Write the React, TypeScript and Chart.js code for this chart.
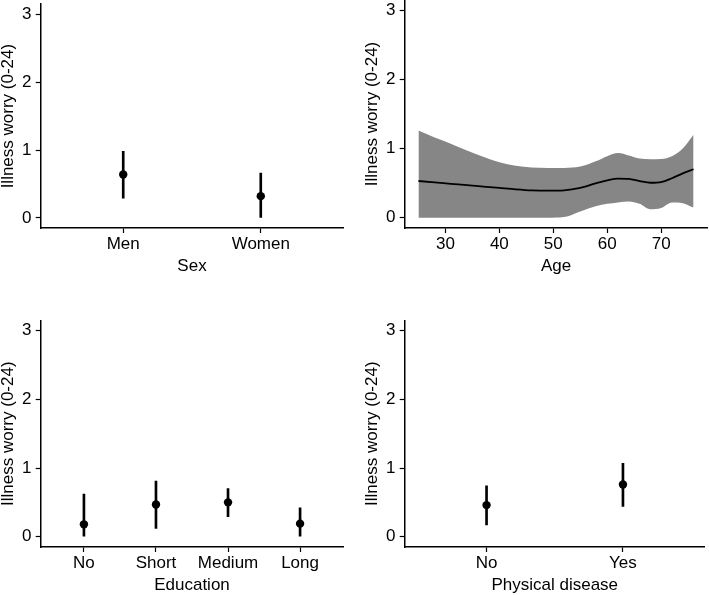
import React, { useEffect, useRef } from 'react';
import { Chart, registerables } from 'chart.js';

Chart.register(...registerables);

// ---------- data ----------
const Y_TICKS = [0, 1, 2, 3];
const Y_MIN = -0.15;
const Y_MAX = 3.15;
const Y_TITLE = 'Illness worry (0-24)';

const sexCategories = ['Men', 'Women'];
const sexMean = [0.64, 0.32];
const sexLow = [0.29, 0.0];
const sexHigh = [0.98, 0.66];

const eduCategories = ['No', 'Short', 'Medium', 'Long'];
const eduMean = [0.18, 0.47, 0.5, 0.19];
const eduLow = [0.0, 0.12, 0.29, 0.0];
const eduHigh = [0.62, 0.81, 0.7, 0.42];

const diseaseCategories = ['No', 'Yes'];
const diseaseMean = [0.46, 0.76];
const diseaseLow = [0.17, 0.44];
const diseaseHigh = [0.74, 1.07];

const ages = [25, 28, 31, 34, 37, 40, 43, 46, 49, 52, 55, 58, 60, 62, 64, 66, 68, 70, 72, 74, 76];
const ageFit = [0.53, 0.51, 0.49, 0.47, 0.45, 0.43, 0.41, 0.395, 0.39, 0.395, 0.43, 0.5, 0.54, 0.565, 0.56, 0.53, 0.505, 0.515, 0.57, 0.64, 0.7];
const ageUpper = [1.26, 1.16, 1.07, 0.97, 0.88, 0.8, 0.75, 0.725, 0.72, 0.72, 0.74, 0.82, 0.89, 0.935, 0.9, 0.855, 0.845, 0.85, 0.89, 1.0, 1.2];
const ageLower = [0, 0, 0, 0, 0, 0, 0, 0, 0, 0.01, 0.09, 0.17, 0.2, 0.22, 0.235, 0.2, 0.12, 0.14, 0.22, 0.21, 0.145];
const ageTicks = [30, 40, 50, 60, 70];
const AGE_MIN = 22.45;
const AGE_MAX = 78.55;

// ---------- style ----------
const FONT = "'Liberation Sans', Arial, sans-serif";
const FONT_SIZE = 17;
const BAND = '#868686';

type Panel = {
  left: number;
  top: number;
  width: number;
  height: number;
  padLeft: number;
  chartLeft: number;
  chartRight: number;
  chartTop: number;
  chartBottom: number;
};

const P_TL: Panel = { left: 0, top: 0, width: 354, height: 300, padLeft: 0, chartLeft: 40.7, chartRight: 343.3, chartTop: 0, chartBottom: 228 };
const P_TR: Panel = { left: 354, top: 0, width: 355, height: 300, padLeft: 10, chartLeft: 50.7, chartRight: 353.3, chartTop: 0, chartBottom: 228 };
const P_BL: Panel = { left: 0, top: 300, width: 354, height: 295, padLeft: 0, chartLeft: 40.7, chartRight: 343.3, chartTop: 20.4, chartBottom: 247 };
const P_BR: Panel = { left: 354, top: 300, width: 355, height: 295, padLeft: 10, chartLeft: 50.7, chartRight: 353.3, chartTop: 20.4, chartBottom: 247 };

function baseOptions(p: Panel, xMin: number, xMax: number, xTickValues: number[], xLabel: (v: number) => string, xTitle: string): any {
  const yWidth = p.chartLeft - p.padLeft;
  const xHeight = p.height - p.chartBottom;
  const titleOffset = p.height - (p.chartBottom + 38.6) - FONT_SIZE / 2;
  const tickFont = { family: FONT, size: FONT_SIZE, lineHeight: 1.2 };
  const titleFont = { family: FONT, size: FONT_SIZE, lineHeight: 1 };
  const grid = { display: true, drawOnChartArea: false, drawTicks: true, tickLength: 5, tickColor: '#000', tickWidth: 1.2, offset: false };
  const border = { display: true, color: '#000', width: 1.5 };
  return {
    responsive: false,
    maintainAspectRatio: false,
    animation: false,
    events: [],
    layout: { padding: { left: p.padLeft, top: p.chartTop, right: p.width - p.chartRight, bottom: 0 } },
    plugins: { legend: { display: false }, tooltip: { enabled: false } },
    scales: {
      x: {
        type: 'linear',
        position: 'bottom',
        min: xMin,
        max: xMax,
        bounds: 'data',
        offset: false,
        afterBuildTicks: (s: any) => { s.ticks = xTickValues.map((v) => ({ value: v })); },
        afterFit: (s: any) => { s.height = xHeight; s.paddingLeft = 0; s.paddingRight = 0; s.paddingTop = 0; s.paddingBottom = 0; },
        ticks: { autoSkip: false, maxRotation: 0, minRotation: 0, padding: 1.1, color: '#000', font: tickFont, callback: (v: number) => xLabel(v) },
        grid,
        border,
        title: { display: true, text: xTitle, color: '#000', font: titleFont, padding: { top: 0, bottom: titleOffset } },
      },
      y: {
        type: 'linear',
        position: 'left',
        min: Y_MIN,
        max: Y_MAX,
        bounds: 'data',
        afterBuildTicks: (s: any) => { s.ticks = Y_TICKS.map((v) => ({ value: v })); },
        afterFit: (s: any) => { s.width = yWidth; s.paddingLeft = 0; s.paddingRight = 0; s.paddingTop = 0; s.paddingBottom = 0; },
        ticks: { padding: 4.3, color: '#000', font: tickFont, callback: (v: number) => String(v) },
        grid,
        border,
        title: { display: true, text: Y_TITLE, color: '#000', font: titleFont, padding: { top: 0.2, bottom: 0 } },
      },
    },
  };
}

function catConfig(p: Panel, cats: string[], mean: number[], low: number[], high: number[], xTitle: string): any {
  return {
    type: 'scatter',
    data: {
      datasets: [
        {
          type: 'scatter',
          data: mean.map((m, i) => ({ x: i, y: m })),
          pointRadius: 4.2,
          pointHoverRadius: 4.2,
          pointBackgroundColor: '#000',
          pointBorderWidth: 0,
          pointBorderColor: '#000',
        },
        {
          type: 'bar',
          data: low.map((l, i) => ({ x: i, y: [l, high[i]] })),
          backgroundColor: '#000',
          borderWidth: 0,
          barThickness: 2,
        },
      ],
    },
    options: baseOptions(p, -0.6, cats.length - 1 + 0.6, cats.map((_, i) => i), (v) => cats[Math.round(v)] ?? '', xTitle),
  };
}

function ageConfig(p: Panel): any {
  return {
    type: 'line',
    data: {
      datasets: [
        {
          data: ages.map((a, i) => ({ x: a, y: ageFit[i] })),
          borderColor: '#000',
          borderWidth: 1.8,
          pointRadius: 0,
          fill: false,
          cubicInterpolationMode: 'monotone',
        },
        {
          data: ages.map((a, i) => ({ x: a, y: ageLower[i] })),
          borderColor: 'rgba(0,0,0,0)',
          borderWidth: 1,
          pointRadius: 0,
          fill: false,
          cubicInterpolationMode: 'monotone',
        },
        {
          data: ages.map((a, i) => ({ x: a, y: ageUpper[i] })),
          borderColor: 'rgba(0,0,0,0)',
          borderWidth: 1,
          backgroundColor: BAND,
          pointRadius: 0,
          fill: '-1',
          cubicInterpolationMode: 'monotone',
        },
      ],
    },
    options: baseOptions(p, AGE_MIN, AGE_MAX, ageTicks, (v) => String(v), 'Age'),
  };
}

function PanelChart({ p, make }: { p: Panel; make: (p: Panel) => any }) {
  const ref = useRef<HTMLCanvasElement>(null);
  useEffect(() => {
    const chart = new Chart(ref.current as HTMLCanvasElement, make(p));
    return () => chart.destroy();
  }, []);
  return (
    <div style={{ position: 'absolute', left: p.left, top: p.top, width: p.width, height: p.height }}>
      <canvas ref={ref} width={p.width} height={p.height} style={{ display: 'block' }} />
    </div>
  );
}

export default function App() {
  return (
    <div style={{ position: 'fixed', left: 0, top: 0, width: 709, height: 595, background: '#fff', overflow: 'hidden' }}>
      <PanelChart p={P_TL} make={(p) => catConfig(p, sexCategories, sexMean, sexLow, sexHigh, 'Sex')} />
      <PanelChart p={P_TR} make={(p) => ageConfig(p)} />
      <PanelChart p={P_BL} make={(p) => catConfig(p, eduCategories, eduMean, eduLow, eduHigh, 'Education')} />
      <PanelChart p={P_BR} make={(p) => catConfig(p, diseaseCategories, diseaseMean, diseaseLow, diseaseHigh, 'Physical disease')} />
    </div>
  );
}
